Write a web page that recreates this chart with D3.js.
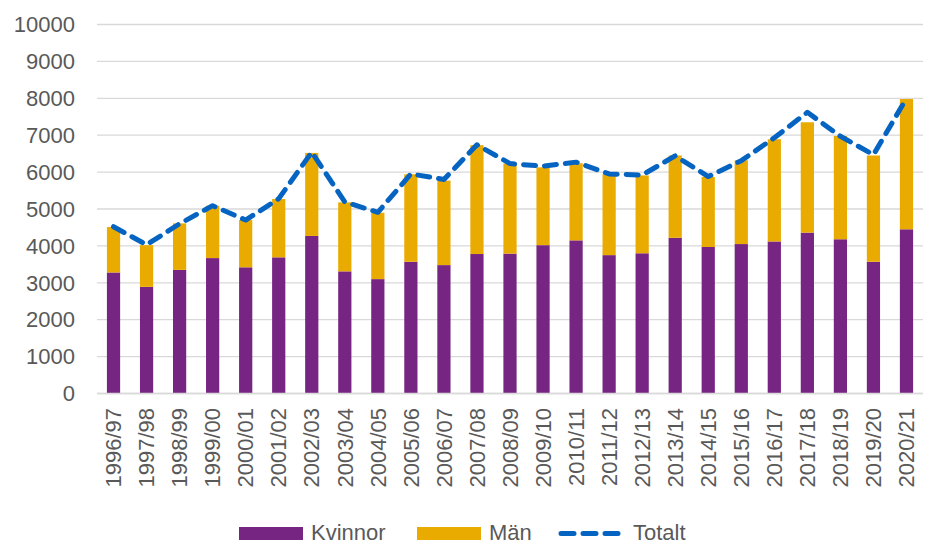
<!DOCTYPE html>
<html>
<head>
<meta charset="utf-8">
<script src="https://cdn.jsdelivr.net/npm/d3@7"></script>
<style>
  body { margin: 0; background: #fff; }
  text { font-family: "Liberation Sans", Arial, sans-serif; fill: #595959; }
</style>
</head>
<body>
<div id="container"></div>
<script>
// data
let years = ["1996/97","1997/98","1998/99","1999/00","2000/01","2001/02","2002/03","2003/04","2004/05",
  "2005/06","2006/07","2007/08","2008/09","2009/10","2010/11","2011/12","2012/13","2013/14","2014/15",
  "2015/16","2016/17","2017/18","2018/19","2019/20","2020/21"];
let kvinnor = [3280, 2890, 3350, 3670, 3420, 3690, 4270, 3310, 3100, 3570, 3480, 3780, 3790,
  4020, 4150, 3750, 3800, 4220, 3970, 4050, 4120, 4360, 4180, 3570, 4450];
let man = [1230, 1130, 1260, 1420, 1280, 1580, 2250, 1870, 1800, 2370, 2290, 2950, 2440,
  2110, 2090, 2190, 2110, 2230, 1900, 2270, 2770, 2990, 2800, 2880, 3530];
let totalt = [4520, 4030, 4600, 5090, 4700, 5280, 6540, 5190, 4910, 5950, 5800, 6740, 6230,
  6160, 6270, 5950, 5920, 6440, 5880, 6310, 6930, 7620, 6970, 6470, 8000];
let yTicks = [0, 1000, 2000, 3000, 4000, 5000, 6000, 7000, 8000, 9000, 10000];

let w = 930, h = 545;
let plotLeft = 97, plotRight = 923, plotTop = 24.5, plotBottom = 393.5;

let colKv = "#772583", colMan = "#EAAB00", colTot = "#0563C1";

let viz = d3.select("#container").append("svg")
    .attr("width", w)
    .attr("height", h);

let x = d3.scaleBand().domain(years).range([plotLeft, plotRight]).paddingInner(0.6).paddingOuter(0.3);
let y = d3.scaleLinear().domain([0, 10000]).range([plotBottom, plotTop]);

// gridlines
viz.selectAll(".grid").data(yTicks).enter()
  .append("line")
    .attr("x1", plotLeft).attr("x2", plotRight)
    .attr("y1", d => y(d)).attr("y2", d => y(d))
    .attr("stroke", "#d9d9d9")
    .attr("stroke-width", 1.3);

// y labels
viz.selectAll(".ylab").data(yTicks).enter()
  .append("text")
    .attr("x", 75)
    .attr("y", d => y(d))
    .attr("dy", "0.35em")
    .attr("text-anchor", "end")
    .style("font-size", "22px")
    .text(d => d);

// stacked bars
let rows = years.map((yr, i) => ({year: yr, Kvinnor: kvinnor[i], Man: man[i]}));
let stack = d3.stack().keys(["Kvinnor", "Man"])(rows);
let colors = [colKv, colMan];

viz.selectAll(".layer").data(stack).enter()
  .append("g")
    .attr("fill", (d, i) => colors[i])
  .selectAll("rect").data(d => d).enter()
  .append("rect")
    .attr("x", d => x(d.data.year))
    .attr("width", x.bandwidth())
    .attr("y", d => y(d[1]))
    .attr("height", d => y(d[0]) - y(d[1]));

// baseline
viz.append("line")
  .attr("x1", plotLeft).attr("x2", plotRight)
  .attr("y1", y(0)).attr("y2", y(0))
  .attr("stroke", "#d9d9d9")
  .attr("stroke-width", 1.5);

// totalt line
let line = d3.line()
  .x((d, i) => x(years[i]) + x.bandwidth() / 2)
  .y(d => y(d));

viz.append("path")
  .datum(totalt)
  .attr("d", line)
  .attr("fill", "none")
  .attr("stroke", colTot)
  .attr("stroke-width", 5)
  .attr("stroke-dasharray", "12,9")
  .attr("stroke-linecap", "round")
  .attr("stroke-linejoin", "round");

// x labels
viz.selectAll(".xlab").data(years).enter()
  .append("text")
    .attr("transform", d => "translate(" + (x(d) + x.bandwidth() / 2) + "," + 408 + ") rotate(-90)")
    .attr("dy", "0.35em")
    .attr("text-anchor", "end")
    .style("font-size", "22px")
    .text(d => d);

// legend
let legend = viz.append("g");
legend.append("rect").attr("x", 239).attr("y", 527).attr("width", 64).attr("height", 13).attr("fill", colKv);
legend.append("text").attr("x", 311).attr("y", 540).style("font-size", "22px").text("Kvinnor");
legend.append("rect").attr("x", 417).attr("y", 527).attr("width", 64).attr("height", 13).attr("fill", colMan);
legend.append("text").attr("x", 489).attr("y", 540).style("font-size", "22px").text("Män");
legend.append("line")
  .attr("x1", 561).attr("x2", 620).attr("y1", 533.5).attr("y2", 533.5)
  .attr("stroke", colTot).attr("stroke-width", 5)
  .attr("stroke-dasharray", "13,9").attr("stroke-linecap", "round");
legend.append("text").attr("x", 633).attr("y", 540).style("font-size", "22px").text("Totalt");
</script>
</body>
</html>
